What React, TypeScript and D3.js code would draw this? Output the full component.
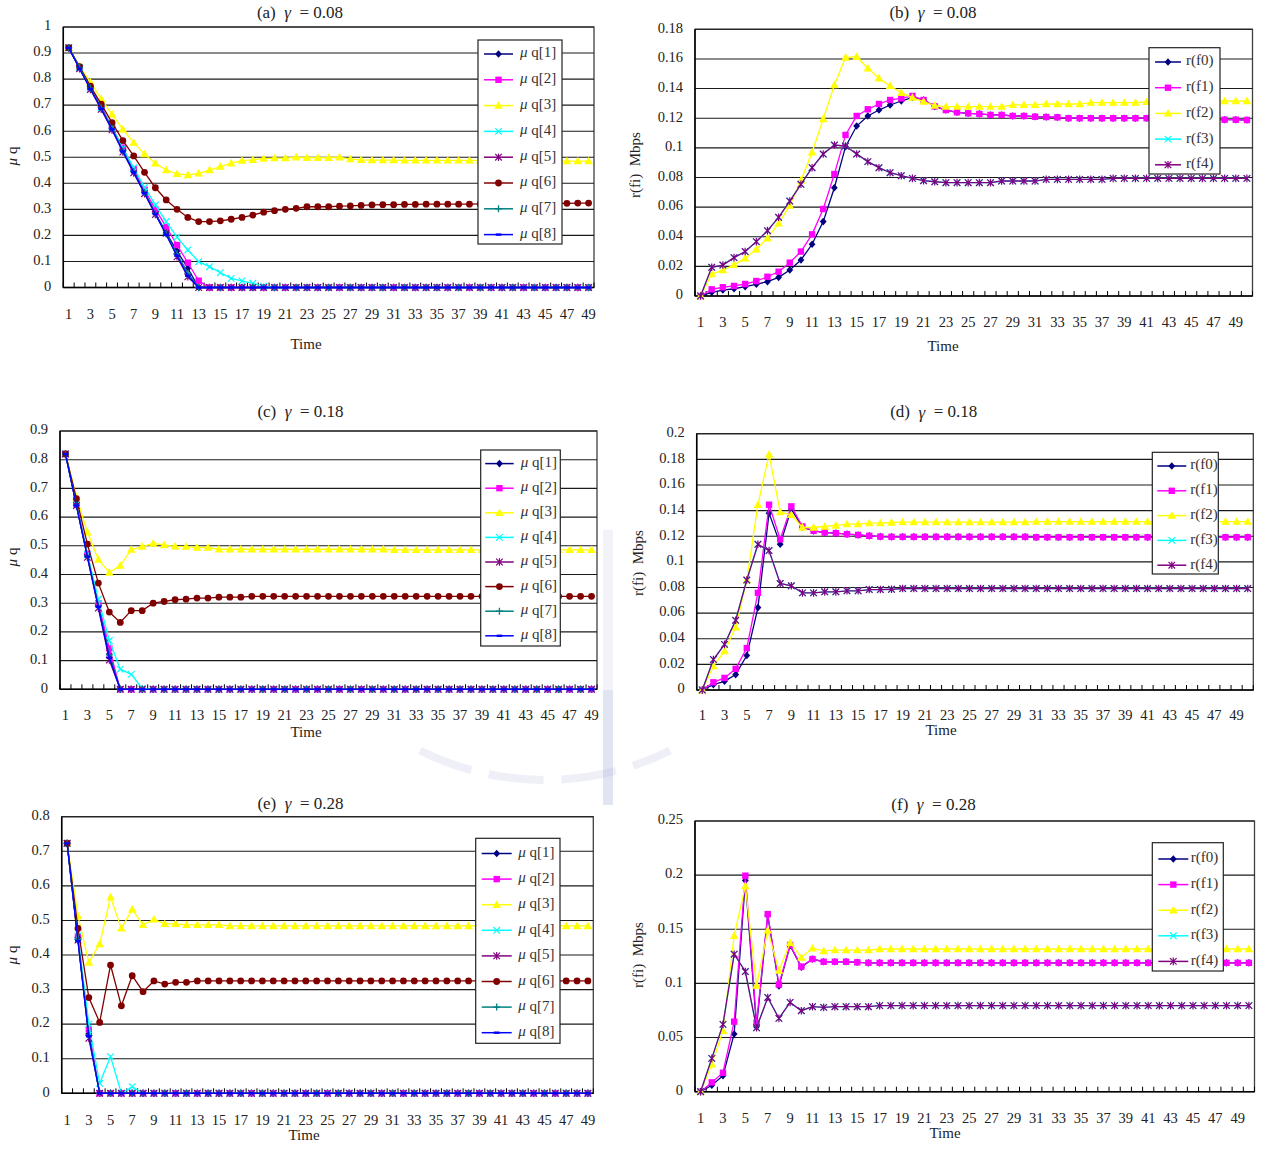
import React from "react";
import * as d3 from "d3";

const FONT = "'Liberation Serif','Times New Roman',serif";

// ---------- Panel (a) gamma = 0.08 : mu q, t = 1..49 ----------
const A_q1 = [0.92,0.845,0.765,0.69,0.61,0.525,0.445,0.365,0.285,0.21,
  0.14,0.074,0,0,0,0,0,0,0,0,
  0,0,0,0,0,0,0,0,0,0,
  0,0,0,0,0,0,0,0,0,0,
  0,0,0,0,0,0,0,0,0];
const A_q2 = [0.92,0.845,0.77,0.695,0.615,0.537,0.455,0.375,0.3,0.233,
  0.163,0.095,0.026,0,0,0,0,0,0,0,
  0,0,0,0,0,0,0,0,0,0,
  0,0,0,0,0,0,0,0,0,0,
  0,0,0,0,0,0,0,0,0];
const A_q3 = [0.92,0.85,0.788,0.724,0.665,0.607,0.556,0.512,0.477,0.451,
  0.436,0.432,0.438,0.451,0.464,0.477,0.487,0.49,0.495,0.497,
  0.497,0.5,0.498,0.498,0.498,0.5,0.493,0.49,0.489,0.489,
  0.489,0.488,0.488,0.488,0.488,0.488,0.488,0.488,0.488,0.488,
  0.488,0.487,0.487,0.487,0.487,0.487,0.485,0.485,0.485];
const A_q4 = [0.92,0.845,0.765,0.69,0.615,0.535,0.46,0.385,0.317,0.253,
  0.193,0.144,0.099,0.08,0.057,0.035,0.025,0.016,0.005,0,
  0,0,0,0,0,0,0,0,0,0,
  0,0,0,0,0,0,0,0,0,0,
  0,0,0,0,0,0,0,0,0];
const A_q5 = [0.92,0.84,0.76,0.684,0.605,0.52,0.44,0.36,0.28,0.208,
  0.118,0.041,0,0,0,0,0,0,0,0,
  0,0,0,0,0,0,0,0,0,0,
  0,0,0,0,0,0,0,0,0,0,
  0,0,0,0,0,0,0,0,0];
const A_q6 = [0.92,0.848,0.773,0.704,0.633,0.564,0.505,0.442,0.383,0.336,
  0.3,0.269,0.253,0.253,0.256,0.262,0.269,0.278,0.289,0.295,
  0.3,0.304,0.31,0.31,0.31,0.312,0.313,0.315,0.317,0.318,
  0.318,0.319,0.319,0.32,0.32,0.32,0.32,0.32,0.321,0.321,
  0.321,0.321,0.322,0.322,0.322,0.323,0.323,0.324,0.324];
const A_q7 = [0.92,0.845,0.765,0.69,0.61,0.525,0.445,0.365,0.285,0.205,
  0.13,0.055,0,0,0,0,0,0,0,0,
  0,0,0,0,0,0,0,0,0,0,
  0,0,0,0,0,0,0,0,0,0,
  0,0,0,0,0,0,0,0,0];
const A_q8 = [0.92,0.84,0.762,0.686,0.607,0.522,0.442,0.362,0.282,0.202,
  0.122,0.045,0,0,0,0,0,0,0,0,
  0,0,0,0,0,0,0,0,0,0,
  0,0,0,0,0,0,0,0,0,0,
  0,0,0,0,0,0,0,0,0];

// ---------- Panel (b) gamma = 0.08 : r(fi), t = 1..50 ----------
const B_f0 = [0,0.0025,0.004,0.0049,0.0063,0.0079,0.0097,0.0126,0.0175,0.0243,
  0.0349,0.0502,0.0731,0.1008,0.1147,0.1215,0.1255,0.1289,0.1316,0.134,
  0.1323,0.128,0.1255,0.124,0.1233,0.1229,0.1222,0.1222,0.1215,0.1215,
  0.121,0.1208,0.1206,0.12,0.12,0.12,0.12,0.12,0.12,0.12,
  0.12,0.1195,0.1195,0.1195,0.1195,0.1192,0.1192,0.119,0.119,0.1188];
const B_f1 = [0,0.0045,0.0059,0.0068,0.0081,0.0101,0.013,0.0164,0.0225,0.03,
  0.0416,0.0587,0.0823,0.1087,0.1215,0.126,0.1296,0.1323,0.1334,0.135,
  0.1323,0.128,0.1255,0.124,0.1233,0.1229,0.1222,0.1222,0.1215,0.1215,
  0.121,0.1208,0.1206,0.12,0.12,0.12,0.12,0.12,0.12,0.12,
  0.12,0.1195,0.1195,0.1195,0.1195,0.1192,0.1192,0.119,0.119,0.1188];
const B_f2 = [0,0.0148,0.0175,0.021,0.0254,0.0315,0.039,0.049,0.061,0.078,
  0.097,0.1195,0.1424,0.161,0.1615,0.1537,0.147,0.1418,0.1372,0.1339,
  0.1312,0.1285,0.1278,0.1278,0.1278,0.1278,0.1278,0.1278,0.129,0.129,
  0.129,0.1296,0.1296,0.1296,0.1296,0.1305,0.1305,0.1305,0.1305,0.1305,
  0.131,0.131,0.131,0.131,0.131,0.1316,0.1316,0.1316,0.1316,0.1316];
const B_f3 = [0,0.0194,0.0209,0.0259,0.03,0.0367,0.0441,0.0531,0.0641,0.0754,
  0.0866,0.0958,0.1019,0.1012,0.0958,0.0907,0.0866,0.0832,0.0812,0.0794,
  0.0778,0.0771,0.0765,0.0765,0.0765,0.0765,0.0765,0.0776,0.0776,0.0776,
  0.0776,0.0787,0.0787,0.0787,0.0787,0.0787,0.0787,0.0794,0.0794,0.0794,
  0.0794,0.0794,0.0794,0.0794,0.0794,0.0794,0.0794,0.0794,0.0794,0.0794];
const B_f4 = [0,0.0194,0.0209,0.0259,0.03,0.0367,0.0441,0.0531,0.0641,0.0754,
  0.0866,0.0958,0.1019,0.1012,0.0958,0.0907,0.0866,0.0832,0.0812,0.0794,
  0.0778,0.0771,0.0765,0.0765,0.0765,0.0765,0.0765,0.0776,0.0776,0.0776,
  0.0776,0.0787,0.0787,0.0787,0.0787,0.0787,0.0787,0.0794,0.0794,0.0794,
  0.0794,0.0794,0.0794,0.0794,0.0794,0.0794,0.0794,0.0794,0.0794,0.0794];

// ---------- Panel (c) gamma = 0.18 : mu q, t = 1..49 ----------
const C_q1 = [0.82,0.642,0.465,0.29,0.123,0,0,0,0,0,
  0,0,0,0,0,0,0,0,0,0,
  0,0,0,0,0,0,0,0,0,0,
  0,0,0,0,0,0,0,0,0,0,
  0,0,0,0,0,0,0,0,0];
const C_q2 = [0.82,0.645,0.472,0.3,0.143,0,0,0,0,0,
  0,0,0,0,0,0,0,0,0,0,
  0,0,0,0,0,0,0,0,0,0,
  0,0,0,0,0,0,0,0,0,0,
  0,0,0,0,0,0,0,0,0];
const C_q3 = [0.82,0.67,0.547,0.452,0.407,0.431,0.487,0.497,0.508,0.503,
  0.498,0.497,0.494,0.494,0.488,0.488,0.488,0.488,0.488,0.488,
  0.488,0.488,0.488,0.488,0.488,0.488,0.488,0.488,0.488,0.488,
  0.486,0.486,0.486,0.486,0.486,0.486,0.486,0.486,0.486,0.486,
  0.486,0.486,0.486,0.486,0.486,0.486,0.486,0.486,0.486];
const C_q4 = [0.82,0.645,0.47,0.314,0.17,0.07,0.052,0.003,0,0,
  0,0,0,0,0,0,0,0,0,0,
  0,0,0,0,0,0,0,0,0,0,
  0,0,0,0,0,0,0,0,0,0,
  0,0,0,0,0,0,0,0,0];
const C_q5 = [0.82,0.64,0.46,0.283,0.102,0,0,0,0,0,
  0,0,0,0,0,0,0,0,0,0,
  0,0,0,0,0,0,0,0,0,0,
  0,0,0,0,0,0,0,0,0,0,
  0,0,0,0,0,0,0,0,0];
const C_q6 = [0.82,0.664,0.506,0.37,0.269,0.233,0.274,0.274,0.3,0.306,
  0.312,0.314,0.318,0.318,0.321,0.321,0.321,0.324,0.324,0.324,
  0.324,0.324,0.324,0.324,0.324,0.324,0.324,0.324,0.324,0.324,
  0.324,0.324,0.324,0.324,0.324,0.324,0.324,0.324,0.324,0.324,
  0.324,0.324,0.324,0.324,0.324,0.324,0.324,0.324,0.324];
const C_q7 = [0.82,0.642,0.465,0.29,0.12,0,0,0,0,0,
  0,0,0,0,0,0,0,0,0,0,
  0,0,0,0,0,0,0,0,0,0,
  0,0,0,0,0,0,0,0,0,0,
  0,0,0,0,0,0,0,0,0];
const C_q8 = [0.82,0.64,0.462,0.287,0.11,0,0,0,0,0,
  0,0,0,0,0,0,0,0,0,0,
  0,0,0,0,0,0,0,0,0,0,
  0,0,0,0,0,0,0,0,0,0,
  0,0,0,0,0,0,0,0,0];

// ---------- Panel (d) gamma = 0.18 : r(fi), t = 1..50 ----------
const D_f0 = [0,0.0042,0.0068,0.012,0.0269,0.0643,0.138,0.1137,0.1412,0.127,
  0.1242,0.1229,0.1224,0.1216,0.121,0.1203,0.1197,0.1195,0.1195,0.1195,
  0.1195,0.1195,0.1195,0.1195,0.1195,0.1195,0.1195,0.1195,0.1195,0.1195,
  0.1192,0.1192,0.1192,0.1192,0.1192,0.1192,0.1192,0.1192,0.1192,0.1192,
  0.1192,0.1192,0.1192,0.1192,0.1192,0.1192,0.1192,0.1192,0.1192,0.1192];
const D_f1 = [0,0.006,0.0094,0.0165,0.0327,0.0758,0.1446,0.1176,0.1433,0.1276,
  0.1242,0.1229,0.1224,0.1216,0.121,0.1203,0.1197,0.1195,0.1195,0.1195,
  0.1195,0.1195,0.1195,0.1195,0.1195,0.1195,0.1195,0.1195,0.1195,0.1195,
  0.1192,0.1192,0.1192,0.1192,0.1192,0.1192,0.1192,0.1192,0.1192,0.1192,
  0.1192,0.1192,0.1192,0.1192,0.1192,0.1192,0.1192,0.1192,0.1192,0.1192];
const D_f2 = [0,0.0186,0.0303,0.049,0.0858,0.1446,0.1838,0.1388,0.1367,0.1268,
  0.1268,0.1276,0.1284,0.1294,0.1294,0.1302,0.1302,0.1307,0.131,0.131,
  0.131,0.131,0.131,0.131,0.131,0.131,0.131,0.131,0.131,0.131,
  0.1314,0.1314,0.1314,0.1314,0.1314,0.1314,0.1314,0.1314,0.1314,0.1314,
  0.1314,0.1314,0.1314,0.1314,0.1314,0.1314,0.1314,0.1314,0.1314,0.1314];
const D_f3 = [0,0.0238,0.0356,0.0544,0.0858,0.1137,0.1088,0.0831,0.0813,0.0758,
  0.0758,0.0766,0.0766,0.0774,0.0774,0.0784,0.0784,0.0786,0.0792,0.0792,
  0.0792,0.0792,0.0792,0.0792,0.0792,0.0792,0.0792,0.0792,0.0792,0.0792,
  0.0792,0.0792,0.0792,0.0792,0.0792,0.0792,0.0792,0.0792,0.0792,0.0792,
  0.0792,0.0792,0.0792,0.0792,0.0792,0.0792,0.0792,0.0792,0.0792,0.0792];
const D_f4 = [0,0.0238,0.0356,0.0544,0.0858,0.1137,0.1088,0.0831,0.0813,0.0758,
  0.0758,0.0766,0.0766,0.0774,0.0774,0.0784,0.0784,0.0786,0.0792,0.0792,
  0.0792,0.0792,0.0792,0.0792,0.0792,0.0792,0.0792,0.0792,0.0792,0.0792,
  0.0792,0.0792,0.0792,0.0792,0.0792,0.0792,0.0792,0.0792,0.0792,0.0792,
  0.0792,0.0792,0.0792,0.0792,0.0792,0.0792,0.0792,0.0792,0.0792,0.0792];

// ---------- Panel (e) gamma = 0.28 : mu q, t = 1..49 ----------
const E_q1 = [0.723,0.445,0.172,0,0,0,0,0,0,0,
  0,0,0,0,0,0,0,0,0,0,
  0,0,0,0,0,0,0,0,0,0,
  0,0,0,0,0,0,0,0,0,0,
  0,0,0,0,0,0,0,0,0];
const E_q2 = [0.723,0.452,0.185,0,0,0,0,0,0,0,
  0,0,0,0,0,0,0,0,0,0,
  0,0,0,0,0,0,0,0,0,0,
  0,0,0,0,0,0,0,0,0,0,
  0,0,0,0,0,0,0,0,0];
const E_q3 = [0.723,0.513,0.378,0.432,0.567,0.477,0.532,0.487,0.503,0.49,
  0.49,0.487,0.487,0.487,0.487,0.484,0.484,0.484,0.484,0.484,
  0.484,0.484,0.484,0.484,0.484,0.484,0.484,0.484,0.484,0.484,
  0.484,0.484,0.484,0.484,0.484,0.484,0.484,0.484,0.484,0.484,
  0.484,0.484,0.484,0.484,0.484,0.484,0.484,0.484,0.484];
const E_q4 = [0.723,0.455,0.2,0.029,0.106,0,0.019,0,0,0,
  0,0,0,0,0,0,0,0,0,0,
  0,0,0,0,0,0,0,0,0,0,
  0,0,0,0,0,0,0,0,0,0,
  0,0,0,0,0,0,0,0,0];
const E_q5 = [0.723,0.443,0.159,0,0,0,0,0,0,0,
  0,0,0,0,0,0,0,0,0,0,
  0,0,0,0,0,0,0,0,0,0,
  0,0,0,0,0,0,0,0,0,0,
  0,0,0,0,0,0,0,0,0];
const E_q6 = [0.723,0.477,0.277,0.205,0.371,0.253,0.34,0.294,0.325,0.316,
  0.321,0.321,0.325,0.325,0.325,0.325,0.325,0.325,0.325,0.325,
  0.325,0.325,0.325,0.325,0.325,0.325,0.325,0.325,0.325,0.325,
  0.325,0.325,0.325,0.325,0.325,0.325,0.325,0.325,0.325,0.325,
  0.325,0.325,0.325,0.325,0.325,0.325,0.325,0.325,0.325];
const E_q7 = [0.723,0.445,0.168,0,0,0,0,0,0,0,
  0,0,0,0,0,0,0,0,0,0,
  0,0,0,0,0,0,0,0,0,0,
  0,0,0,0,0,0,0,0,0,0,
  0,0,0,0,0,0,0,0,0];
const E_q8 = [0.723,0.44,0.165,0,0,0,0,0,0,0,
  0,0,0,0,0,0,0,0,0,0,
  0,0,0,0,0,0,0,0,0,0,
  0,0,0,0,0,0,0,0,0,0,
  0,0,0,0,0,0,0,0,0];

// ---------- Panel (f) gamma = 0.28 : r(fi), t = 1..50 ----------
const F_f0 = [0,0.006,0.0148,0.0533,0.195,0.06,0.163,0.0976,0.135,0.115,
  0.1225,0.12,0.12,0.12,0.1195,0.119,0.119,0.119,0.119,0.119,
  0.119,0.119,0.119,0.119,0.119,0.119,0.119,0.119,0.119,0.119,
  0.119,0.119,0.119,0.119,0.119,0.119,0.119,0.119,0.119,0.119,
  0.119,0.119,0.119,0.119,0.119,0.119,0.119,0.119,0.119,0.119];
const F_f1 = [0,0.0086,0.0175,0.0647,0.1995,0.0637,0.164,0.099,0.1355,0.1155,
  0.1225,0.12,0.12,0.12,0.1195,0.119,0.119,0.119,0.119,0.119,
  0.119,0.119,0.119,0.119,0.119,0.119,0.119,0.119,0.119,0.119,
  0.119,0.119,0.119,0.119,0.119,0.119,0.119,0.119,0.119,0.119,
  0.119,0.119,0.119,0.119,0.119,0.119,0.119,0.119,0.119,0.119];
const F_f2 = [0,0.0252,0.0563,0.144,0.19,0.098,0.149,0.112,0.1376,0.124,
  0.1324,0.13,0.1308,0.1308,0.1308,0.1308,0.1318,0.1318,0.1318,0.1318,
  0.1318,0.1318,0.1318,0.1318,0.1318,0.1318,0.1318,0.1318,0.1318,0.1318,
  0.1318,0.1318,0.1318,0.1318,0.1318,0.1318,0.1318,0.1318,0.1318,0.1318,
  0.1318,0.1318,0.1318,0.1318,0.1318,0.1318,0.1318,0.1318,0.1318,0.1318];
const F_f3 = [0,0.0308,0.0622,0.127,0.111,0.059,0.087,0.0677,0.0825,0.0748,
  0.0785,0.0779,0.0785,0.0785,0.0785,0.0785,0.0795,0.0795,0.0795,0.0795,
  0.0795,0.0795,0.0795,0.0795,0.0795,0.0795,0.0795,0.0795,0.0795,0.0795,
  0.0795,0.0795,0.0795,0.0795,0.0795,0.0795,0.0795,0.0795,0.0795,0.0795,
  0.0795,0.0795,0.0795,0.0795,0.0795,0.0795,0.0795,0.0795,0.0795,0.0795];
const F_f4 = [0,0.0308,0.0622,0.127,0.111,0.059,0.087,0.0677,0.0825,0.0748,
  0.0785,0.0779,0.0785,0.0785,0.0785,0.0785,0.0795,0.0795,0.0795,0.0795,
  0.0795,0.0795,0.0795,0.0795,0.0795,0.0795,0.0795,0.0795,0.0795,0.0795,
  0.0795,0.0795,0.0795,0.0795,0.0795,0.0795,0.0795,0.0795,0.0795,0.0795,
  0.0795,0.0795,0.0795,0.0795,0.0795,0.0795,0.0795,0.0795,0.0795,0.0795];

// ---------- series labels / styles ----------
const Q_NAMES = ["q[1]", "q[2]", "q[3]", "q[4]", "q[5]", "q[6]", "q[7]", "q[8]"];
const R_NAMES = ["r(f0)", "r(f1)", "r(f2)", "r(f3)", "r(f4)"];
const COLORS = ["#000080", "#FF00FF", "#FFFF00", "#00FFFF", "#800080", "#800000", "#008080", "#0000FF"];
type Mk = "diamond" | "square" | "triangle" | "x" | "asterisk" | "circle" | "plus" | "dash";
const MARKERS: Mk[] = ["diamond", "square", "triangle", "x", "asterisk", "circle", "plus", "dash"];

function Marker({ type, cx, cy, color }: { type: Mk; cx: number; cy: number; color: string }) {
  const s = 3.4;
  switch (type) {
    case "diamond":
      return <path d={`M${cx},${cy - s - 0.4}L${cx + s},${cy}L${cx},${cy + s + 0.4}L${cx - s},${cy}Z`} fill={color} />;
    case "square":
      return <rect x={cx - 3.2} y={cy - 3.2} width={6.4} height={6.4} fill={color} />;
    case "triangle":
      return <path d={`M${cx},${cy - 4.4}L${cx + 4.3},${cy + 3.2}L${cx - 4.3},${cy + 3.2}Z`} fill={color} />;
    case "x":
      return (
        <path d={`M${cx - 3.3},${cy - 3.3}L${cx + 3.3},${cy + 3.3}M${cx - 3.3},${cy + 3.3}L${cx + 3.3},${cy - 3.3}`}
          stroke={color} strokeWidth={1.2} fill="none" />
      );
    case "asterisk":
      return (
        <path d={`M${cx - 3.3},${cy - 3.3}L${cx + 3.3},${cy + 3.3}M${cx - 3.3},${cy + 3.3}L${cx + 3.3},${cy - 3.3}M${cx},${cy - 3.8}L${cx},${cy + 3.8}`}
          stroke={color} strokeWidth={1.2} fill="none" />
      );
    case "circle":
      return <circle cx={cx} cy={cy} r={3.4} fill={color} />;
    case "plus":
      return (
        <path d={`M${cx - 3.5},${cy}L${cx + 3.5},${cy}M${cx},${cy - 3.5}L${cx},${cy + 3.5}`}
          stroke={color} strokeWidth={1.3} fill="none" />
      );
    case "dash":
      return <rect x={cx - 2.8} y={cy - 1.2} width={5.6} height={2.4} fill={color} />;
  }
  return null;
}

interface Cfg {
  letter: string;
  gamma: string;
  kind: "q" | "r";
  series: number[][];
  yMax: number;
  yStep: number;
  left: number; top: number; right: number; bottom: number;
  titleX: number; titleY: number;
  tickY: number;
  timeX: number; timeY: number;
  ylabX: number; ylabY: number;
  leg: { x: number; y: number; w: number; h: number; first: number; gap: number; l1: number; l2: number; tx: number };
}

const PANELS: Cfg[] = [
  {
    letter: "(a)", gamma: "0.08", kind: "q",
    series: [A_q1, A_q2, A_q3, A_q4, A_q5, A_q6, A_q7, A_q8],
    yMax: 1, yStep: 0.1, left: 63.3, top: 27, right: 594, bottom: 287.5,
    titleX: 300, titleY: 14, tickY: 316, timeX: 306, timeY: 346, ylabX: 14, ylabY: 156,
    leg: { x: 478, y: 40, w: 84, h: 204, first: 54, gap: 25.8, l1: 6, l2: 35, tx: 42 },
  },
  {
    letter: "(b)", gamma: "0.08", kind: "r",
    series: [B_f0, B_f1, B_f2, B_f3, B_f4],
    yMax: 0.18, yStep: 0.02, left: 695, top: 29.3, right: 1252.5, bottom: 296,
    titleX: 933, titleY: 14, tickY: 324, timeX: 943, timeY: 348, ylabX: 637, ylabY: 165,
    leg: { x: 1149, y: 47.7, w: 71, h: 126.3, first: 62, gap: 25.7, l1: 6, l2: 32, tx: 37 },
  },
  {
    letter: "(c)", gamma: "0.18", kind: "q",
    series: [C_q1, C_q2, C_q3, C_q4, C_q5, C_q6, C_q7, C_q8],
    yMax: 0.9, yStep: 0.1, left: 60, top: 431, right: 597, bottom: 689.3,
    titleX: 300.5, titleY: 413, tickY: 716.7, timeX: 306, timeY: 733.5, ylabX: 14, ylabY: 557,
    leg: { x: 480.7, y: 450, w: 79.6, h: 196, first: 463.6, gap: 24.6, l1: 4.5, l2: 33, tx: 40 },
  },
  {
    letter: "(d)", gamma: "0.18", kind: "r",
    series: [D_f0, D_f1, D_f2, D_f3, D_f4],
    yMax: 0.2, yStep: 0.02, left: 696.7, top: 433.7, right: 1253.3, bottom: 690,
    titleX: 933.7, titleY: 413.5, tickY: 716.7, timeX: 941, timeY: 731.7, ylabX: 640, ylabY: 563,
    leg: { x: 1152.3, y: 452.3, w: 66, h: 121.7, first: 466, gap: 24.8, l1: 5, l2: 34, tx: 38 },
  },
  {
    letter: "(e)", gamma: "0.28", kind: "q",
    series: [E_q1, E_q2, E_q3, E_q4, E_q5, E_q6, E_q7, E_q8],
    yMax: 0.8, yStep: 0.1, left: 61.7, top: 816.7, right: 593.3, bottom: 1093.3,
    titleX: 300.5, titleY: 805, tickY: 1121.5, timeX: 304, timeY: 1136.7, ylabX: 14, ylabY: 955,
    leg: { x: 475.7, y: 838.3, w: 84.3, h: 205, first: 853.5, gap: 25.6, l1: 6, l2: 36, tx: 42.6 },
  },
  {
    letter: "(f)", gamma: "0.28", kind: "r",
    series: [F_f0, F_f1, F_f2, F_f3, F_f4],
    yMax: 0.25, yStep: 0.05, left: 695, top: 821, right: 1254.5, bottom: 1091.7,
    titleX: 933.5, titleY: 806, tickY: 1120, timeX: 945, timeY: 1135, ylabX: 640, ylabY: 955,
    leg: { x: 1152.3, y: 842.7, w: 71, h: 128.3, first: 859, gap: 25.6, l1: 6, l2: 36, tx: 38.4 },
  },
];

function fmt(v: number) {
  return String(+v.toFixed(2));
}

function Panel({ cfg }: { cfg: Cfg }) {
  const n = cfg.series[0].length;
  const cats = d3.range(1, n + 1);
  const x = d3.scaleBand<number>().domain(cats).range([cfg.left, cfg.right]).padding(0);
  const bw = x.bandwidth();
  const cx = (i: number) => (x(i + 1) as number) + bw / 2;
  const y = d3.scaleLinear().domain([0, cfg.yMax]).range([cfg.bottom, cfg.top]);
  const nt = Math.round(cfg.yMax / cfg.yStep);
  const ticks = d3.range(0, nt + 1).map((i) => +(i * cfg.yStep).toFixed(3));
  const line = d3.line<number>().x((_, i) => cx(i)).y((d) => y(d));
  const names = cfg.kind === "q" ? Q_NAMES : R_NAMES;
  const L = cfg.leg;

  return (
    <g>
      <rect x={cfg.left} y={cfg.top} width={cfg.right - cfg.left} height={cfg.bottom - cfg.top} fill="#fff" stroke="#404040" strokeWidth={1.3} />
      {ticks.filter((t) => t > 0).map((t) => (
        <line key={t} x1={cfg.left} x2={cfg.right} y1={y(t)} y2={y(t)} stroke="#1a1a1a" strokeWidth={1.1} />
      ))}
      <line x1={cfg.left} x2={cfg.left} y1={cfg.top} y2={cfg.bottom} stroke="#000" strokeWidth={1.5} />
      <line x1={cfg.left} x2={cfg.right} y1={cfg.bottom} y2={cfg.bottom} stroke="#000" strokeWidth={1.5} />
      {d3.range(0, n + 1).map((i) => {
        const xx = cfg.left + i * bw;
        return <line key={i} x1={xx} x2={xx} y1={cfg.bottom} y2={cfg.bottom - 5} stroke="#000" strokeWidth={1} />;
      })}
      {ticks.map((t) => (
        <text key={t} x={cfg.left - 12} y={y(t)} textAnchor="end" dominantBaseline="middle" fontSize={14.5} fontFamily={FONT} fill="#222">
          {fmt(t)}
        </text>
      ))}
      {cats.filter((c) => c % 2 === 1).map((c) => (
        <text key={c} x={cx(c - 1)} y={cfg.tickY} textAnchor="middle" dominantBaseline="middle" fontSize={14.5} fontFamily={FONT} fill="#222">
          {c}
        </text>
      ))}
      {cfg.series.map((s, k) => (
        <g key={k}>
          <path d={line(s) || ""} fill="none" stroke={COLORS[k]} strokeWidth={1.3} />
          {s.map((v, i) => (
            <Marker key={i} type={MARKERS[k]} cx={cx(i)} cy={y(v)} color={COLORS[k]} />
          ))}
        </g>
      ))}
      <rect x={L.x} y={L.y} width={L.w} height={L.h} fill="#fff" stroke="#222" strokeWidth={1.2} />
      {names.map((nm, k) => {
        const yy = L.first + k * L.gap;
        return (
          <g key={nm}>
            <line x1={L.x + L.l1} x2={L.x + L.l2} y1={yy} y2={yy} stroke={COLORS[k]} strokeWidth={1.5} />
            <Marker type={MARKERS[k]} cx={L.x + (L.l1 + L.l2) / 2} cy={yy} color={COLORS[k]} />
            <text x={L.x + L.tx} y={yy} dominantBaseline="middle" fontSize={15} fontFamily={FONT} fill="#333">
              {cfg.kind === "q" ? (
                <>
                  <tspan fontStyle="italic">μ</tspan>
                  {" " + nm}
                </>
              ) : (
                nm
              )}
            </text>
          </g>
        );
      })}
      <text x={cfg.titleX} y={cfg.titleY} textAnchor="middle" dominantBaseline="middle" fontSize={17} fontFamily={FONT} fill="#222" xmlSpace="preserve">
        {cfg.letter + "  "}
        <tspan fontStyle="italic">γ</tspan>
        {"  = " + cfg.gamma}
      </text>
      <text x={cfg.timeX} y={cfg.timeY} textAnchor="middle" dominantBaseline="middle" fontSize={15} fontFamily={FONT} fill="#222">
        Time
      </text>
      <text transform={`translate(${cfg.ylabX},${cfg.ylabY}) rotate(-90)`} textAnchor="middle" dominantBaseline="middle" fontSize={15} fontFamily={FONT} fill="#222" xmlSpace="preserve">
        {cfg.kind === "q" ? (
          <>
            <tspan fontStyle="italic">μ</tspan>
            {" q"}
          </>
        ) : (
          "r(fi)  Mbps"
        )}
      </text>
    </g>
  );
}

export default function App() {
  return (
    <svg width={1263} height={1149} style={{ position: "absolute", left: 0, top: 0, background: "#fff" }}>
      <rect x={0} y={0} width={1263} height={1149} fill="#fff" />
      <g fill="#aab1d6">
        <rect x={603} y={530} width={10} height={160} opacity={0.15} />
        <rect x={603} y={690} width={10} height={115} opacity={0.35} />
      </g>
      <path d="M420,750.5 A280,280 0 0,0 670,750.5" fill="none" stroke="#aab1d6" strokeWidth={8} opacity={0.2} strokeDasharray="55,18" />
      {PANELS.map((p) => (
        <Panel key={p.letter} cfg={p} />
      ))}
    </svg>
  );
}
